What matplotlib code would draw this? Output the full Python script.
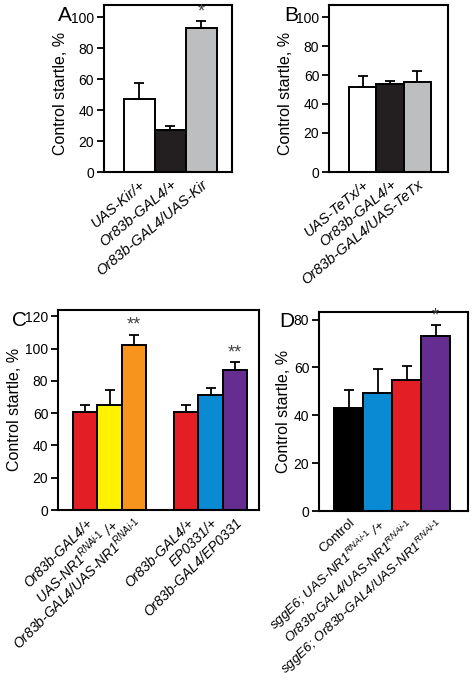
import numpy as np
import matplotlib
matplotlib.use("Agg")
import matplotlib.pyplot as plt

plt.rcParams['font.family'] = ['Liberation Sans', 'DejaVu Sans']
plt.rcParams['mathtext.fontset'] = 'custom'
plt.rcParams['mathtext.rm'] = 'Liberation Sans'
plt.rcParams['mathtext.it'] = 'Liberation Sans:italic'

SUP = r'$^{\mathit{RNAi\text{-}1}}$'

# Panel A
labels_a = ['UAS-Kir/+', 'Or83b-GAL4/+', 'Or83b-GAL4/UAS-Kir']
vals_a = [47, 27, 93]
err_a = [10.5, 2.5, 4.5]
colors_a = ['#ffffff', '#231f20', '#bcbec0']
stars_a = ['', '', '*']

# Panel B
labels_b = ['UAS-TeTx/+', 'Or83b-GAL4/+', 'Or83b-GAL4/UAS-TeTx']
vals_b = [52, 53.5, 55]
err_b = [7, 2.5, 7.5]
colors_b = ['#ffffff', '#231f20', '#bcbec0']

# Panel C
labels_c = ['Or83b-GAL4/+', 'UAS-NR1' + SUP + ' /+', 'Or83b-GAL4/UAS-NR1' + SUP,
            'Or83b-GAL4/+', 'EP0331/+', 'Or83b-GAL4/EP0331']
vals_c = [61, 65, 102, 61, 71.5, 87]
err_c = [4, 9.5, 6.5, 4, 4, 4.5]
colors_c = ['#e31e24', '#fff200', '#f7941d', '#e31e24', '#0a8ad2', '#662d91']
stars_c = ['', '', '**', '', '', '**']

# Panel D
labels_d = ['Control', 'sggE6; UAS-NR1' + SUP + ' /+', 'Or83b-GAL4/UAS-NR1' + SUP,
            'sggE6; Or83b-GAL4/UAS-NR1' + SUP]
vals_d = [43, 49.5, 54.8, 73]
err_d = [7.5, 9.7, 5.8, 4.7]
colors_d = ['#000000', '#0a8ad2', '#e31e24', '#662d91']
stars_d = ['', '', '', '*']

fig = plt.figure(figsize=(4.72, 6.88), dpi=100)


def panel(rect, x, vals, err, colors, labels, ylim, yticks, yticklabels,
          xlim, stars=None, rot=40, lsize=10.5, base=0, italic=None, lab_y=0.5):
    ax = fig.add_axes(rect)
    vals = np.array(vals, dtype=float)
    ax.bar(x, vals - base, bottom=base, width=1.0, color=colors,
           edgecolor='black', linewidth=1.4, zorder=2)
    ax.errorbar(x, vals, yerr=[np.zeros(len(vals)), err], fmt='none',
                ecolor='black', elinewidth=1.3, capsize=3.5, capthick=1.3, zorder=3)
    if stars:
        for xi, v, e, s in zip(x, vals, err, stars):
            if s:
                ax.text(xi, v + e + (ylim[1] - ylim[0]) * 0.005, s, ha='center',
                        va='bottom', fontsize=13, color='#444444')
    ax.set_ylim(*ylim)
    ax.set_xlim(*xlim)
    ax.set_yticks(yticks)
    ax.set_yticklabels(yticklabels, fontsize=10)
    ax.set_xticks(x)
    ax.set_xticklabels(labels, rotation=rot, ha='right', rotation_mode='anchor',
                       fontsize=lsize)
    for i, t in enumerate(ax.get_xticklabels()):
        if italic is None or italic[i]:
            t.set_fontstyle('italic')
    ax.tick_params(axis='x', length=0, pad=4)
    ax.tick_params(axis='y', direction='out', length=5, width=1.3, pad=2)
    for sp in ax.spines.values():
        sp.set_linewidth(1.5)
    ax.set_ylabel('Control startle, %', fontsize=11.5, labelpad=2)
    ax.yaxis.label.set_y(lab_y)
    return ax


xa = np.arange(3)
panel([0.220, 0.750, 0.271, 0.243], xa, vals_a, err_a, colors_a, labels_a,
      (0, 108), [0, 20, 40, 60, 80, 100], ['0', '20', '40', '60', '80', '100'],
      (-1.15, 2.98), stars=stars_a, lab_y=0.47)

b_floor = -7.3
panel([0.697, 0.750, 0.252, 0.243], xa, vals_b, err_b, colors_b, labels_b,
      (b_floor, 108.7), [b_floor, 20, 40, 60, 80, 100],
      ['0', '20', '40', '60', '80', '100'], (-1.23, 3.12), base=b_floor,
      lab_y=0.47)

xc = np.array([0, 1, 2, 4.15, 5.15, 6.15])
panel([0.123, 0.2587, 0.426, 0.291], xc, vals_c, err_c, colors_c, labels_c,
      (0, 124), [0, 20, 40, 60, 80, 100, 120],
      ['0', '20', '40', '60', '80', '100', '120'], (-1.12, 7.15), stars=stars_c,
      rot=45, lsize=10)

xd = np.arange(4)
panel([0.676, 0.257, 0.316, 0.289], xd, vals_d, err_d, colors_d, labels_d,
      (0, 83), [0, 20, 40, 60, 80], ['0', '20', '40', '60', '80'],
      (-1.02, 4.12), stars=stars_d, rot=43, lsize=9.7,
      italic=[False, True, True, True])

fig.text(0.123, 0.969, 'A', fontsize=15, va='baseline')
fig.text(0.602, 0.970, 'B', fontsize=15, va='baseline')
fig.text(0.025, 0.526, 'C', fontsize=15, va='baseline')
fig.text(0.591, 0.525, 'D', fontsize=15, va='baseline')

fig.savefig('out.png', dpi=100)
